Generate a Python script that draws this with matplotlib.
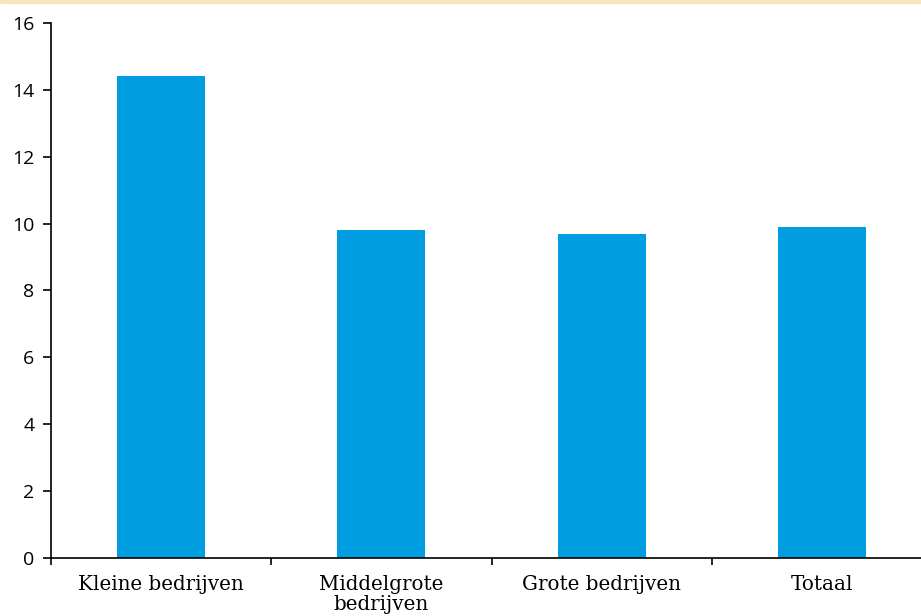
import matplotlib
matplotlib.use("Agg")
import matplotlib.pyplot as plt
from matplotlib.patches import Rectangle

categories = ["Kleine bedrijven", "Middelgrote\nbedrijven", "Grote bedrijven", "Totaal"]
values = [14.4, 9.8, 9.7, 9.9]
yticks = [0, 2, 4, 6, 8, 10, 12, 14, 16]

fig = plt.figure(figsize=(9.21, 6.16), dpi=100)
fig.patches.append(Rectangle((0, 1 - 3 / 616), 1, 3 / 616, transform=fig.transFigure,
                             color="#fae5bf", zorder=0))

ax = fig.add_axes([51 / 921, 58 / 616, 881 / 921, 535 / 616])
x = range(len(categories))
ax.bar(x, values, width=0.4, color="#009ee0", zorder=2)

ax.set_xlim(-0.5, 3.5)
ax.set_ylim(0, 16)
ax.set_yticks(yticks)
ax.set_yticklabels([str(t) for t in yticks], fontsize=14, family="Open Sans")

ax.set_xticks([-0.5, 0.5, 1.5, 2.5], minor=False)
ax.set_xticklabels([])
ax.set_xticks(list(x), minor=True)
ax.set_xticklabels(categories, minor=True, fontsize=14.3, family="DejaVu Serif",
                   linespacing=1.1)
ax.tick_params(axis="x", which="minor", length=0, pad=12)
ax.tick_params(axis="x", which="major", length=5, width=1.2, direction="out")
ax.tick_params(axis="y", length=6, width=1.2, direction="out", pad=6)

for s in ["top", "right"]:
    ax.spines[s].set_visible(False)
for s in ["left", "bottom"]:
    ax.spines[s].set_linewidth(1.2)

fig.savefig("out.png", dpi=100)
